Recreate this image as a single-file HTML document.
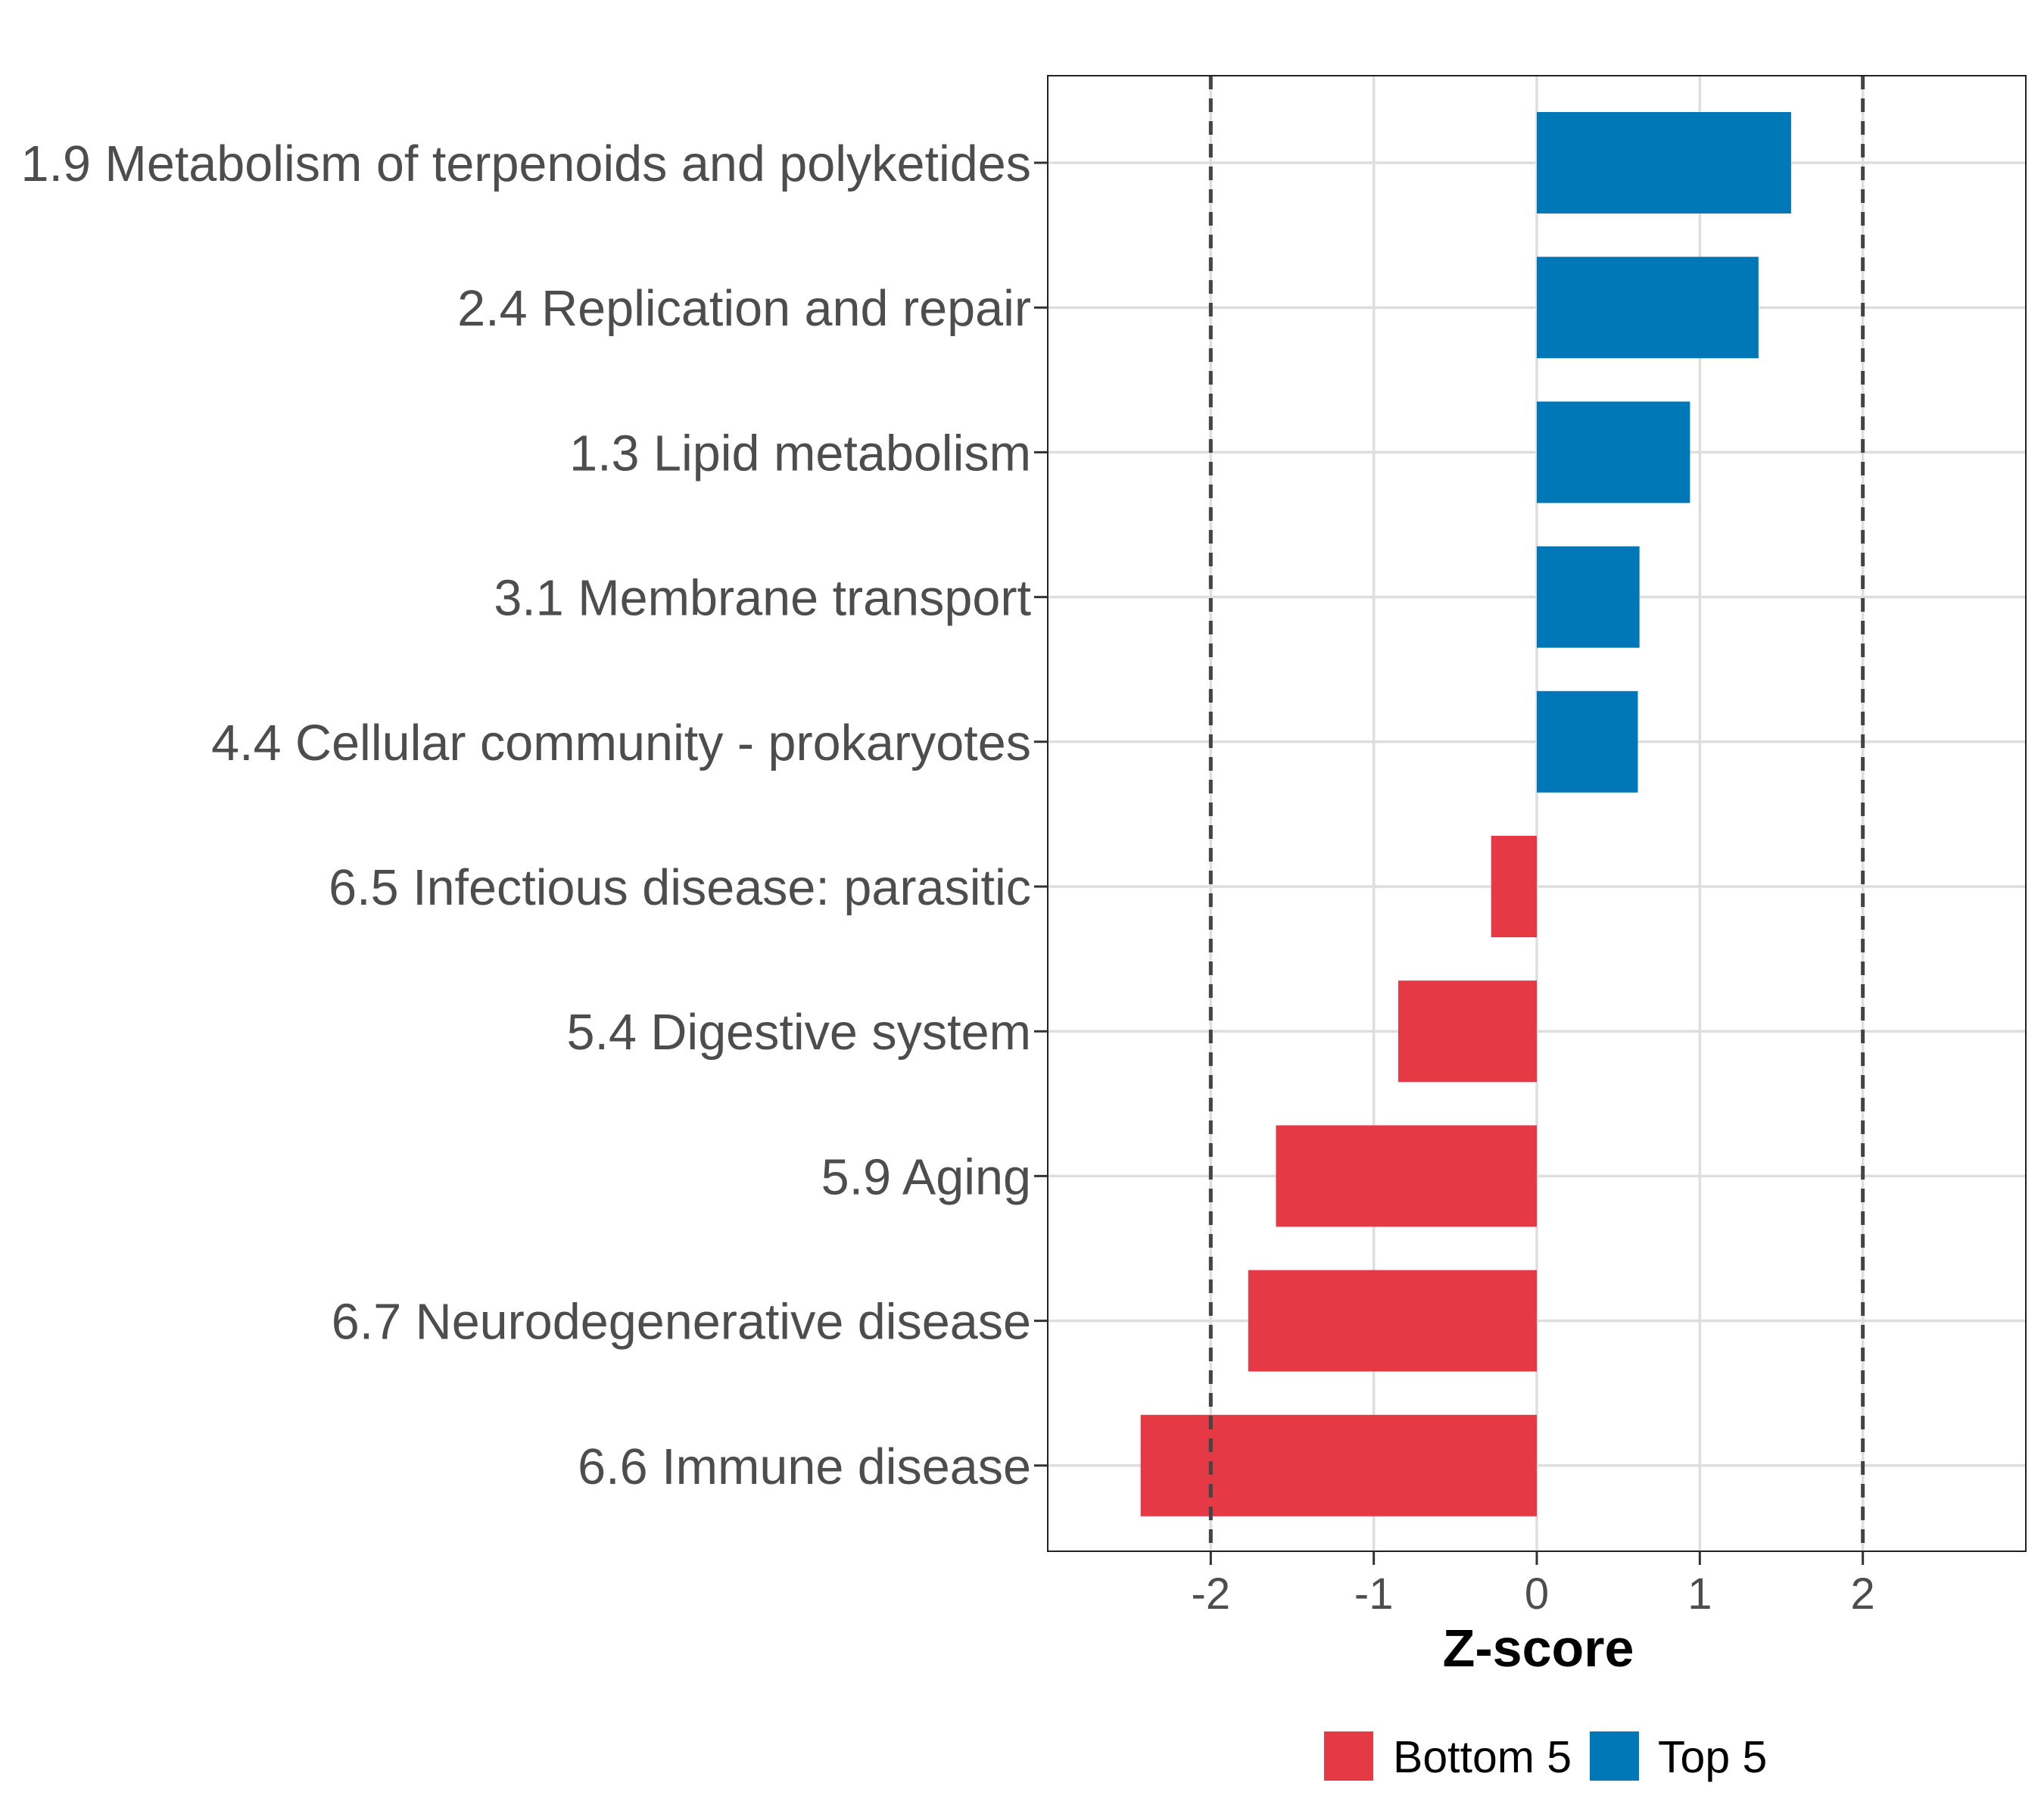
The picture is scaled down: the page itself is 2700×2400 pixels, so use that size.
<!DOCTYPE html>
<html><head><meta charset="utf-8"><style>
html,body{margin:0;padding:0;background:#fff;}
svg{display:block;font-family:"Liberation Sans",Arial,sans-serif;}
</style></head><body>
<svg id="chart" width="2700" height="2400" viewBox="0 0 2700 2400" xmlns="http://www.w3.org/2000/svg">
<rect x="0" y="0" width="2700" height="2400" fill="#fff"/>
<g id="grid"></g>
<g id="bars"></g>
<g id="refs"></g>
<rect x="1384" y="100" width="1292" height="1949" fill="none" stroke="#222" stroke-width="2"/>
<g id="yaxis"></g>
<g id="xaxis"></g>
<text x="2032" y="2201" font-size="70" font-weight="bold" text-anchor="middle" fill="#000">Z-score</text>
<g>
<rect x="1749" y="2287" width="65" height="65" fill="#E63946"/>
<text x="1840" y="2341" font-size="59" fill="#000">Bottom 5</text>
<rect x="2100" y="2287" width="65" height="65" fill="#0077B6"/>
<text x="2190" y="2341" font-size="59" fill="#000">Top 5</text>
</g>
</svg>
<script>
const categories = ["1.9 Metabolism of terpenoids and polyketides","2.4 Replication and repair","1.3 Lipid metabolism","3.1 Membrane transport","4.4 Cellular community - prokaryotes","6.5 Infectious disease: parasitic","5.4 Digestive system","5.9 Aging","6.7 Neurodegenerative disease","6.6 Immune disease"];
const zValues = [1.56,1.36,0.94,0.63,0.62,-0.28,-0.85,-1.6,-1.77,-2.43];
const xTicks = [-2,-1,0,1,2];
const xTickLabels = ["-2","-1","0","1","2"];
const refLines = [-2,2];

const NS="http://www.w3.org/2000/svg";
const L=1384,R=2676,T=100,B=2049;
const xMin=-3,xMax=3;
const x=v=>L+(v-xMin)/(xMax-xMin)*(R-L);
const step=191.2, y0=215;
const y=i=>y0+i*step;
const bh=134;
function mk(tag,attrs,parent){const e=document.createElementNS(NS,tag);for(const k in attrs)e.setAttribute(k,attrs[k]);parent.appendChild(e);return e;}
const grid=document.getElementById('grid'),bars=document.getElementById('bars'),refs=document.getElementById('refs'),ya=document.getElementById('yaxis'),xa=document.getElementById('xaxis');
xTicks.forEach((t,i)=>{
  const g=mk('line',{x1:x(t),x2:x(t),y1:T,y2:B,stroke:'#dedede','stroke-width':3.5},grid);
  
  
  const tk=mk('line',{x1:x(t),x2:x(t),y1:B,y2:B+18,stroke:'#333','stroke-width':3},xa);
  
  
  const tl=mk('text',{x:x(t),y:B+76,'font-size':58,'text-anchor':'middle',fill:'#4d4d4d'},xa);
  tl.textContent=xTickLabels[i];
  
  
});
categories.forEach((c,i)=>{
  const g=mk('line',{x1:L,x2:R,y1:y(i),y2:y(i),stroke:'#dedede','stroke-width':3.5},grid);
  
  
  const v=zValues[i];
  const r=mk('rect',{x:Math.min(x(0),x(v)),y:y(i)-bh/2,width:Math.abs(x(v)-x(0)),height:bh,fill:v>=0?'#0077B6':'#E63946'},bars);
  
  
  const tk=mk('line',{x1:L-18,x2:L,y1:y(i),y2:y(i),stroke:'#333','stroke-width':3},ya);
  
  
  const tl=mk('text',{x:L-22,y:y(i)+24,'font-size':66.5,'text-anchor':'end',fill:'#4d4d4d'},ya);
  tl.textContent=c;
  
  
});
refLines.forEach(v=>{
  const l=mk('line',{x1:x(v),x2:x(v),y1:T,y2:B,stroke:'#444','stroke-width':5,'stroke-dasharray':'18,12'},refs);
  
  
});
</script>
</body></html>
